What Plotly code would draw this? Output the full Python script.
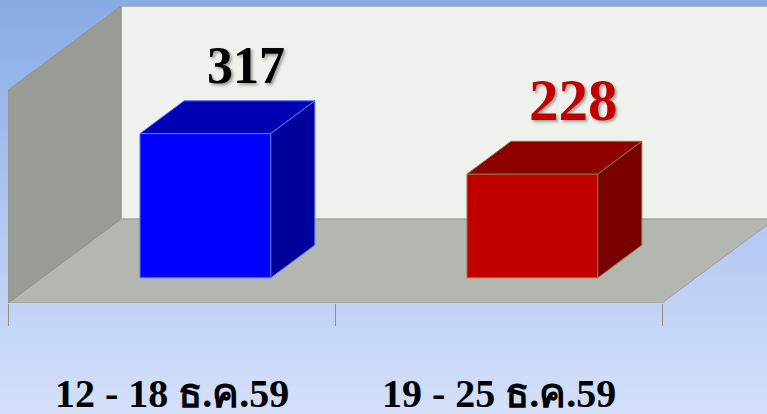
import plotly.graph_objects as go

# ---- data ----
categories = ["12 - 18 ธ.ค.59", "19 - 25 ธ.ค.59"]
values = [317, 228]
value_labels = ["317", "228"]

# ---- styling / geometry constants ----
front_colors = ["#0000FF", "#C00000"]
top_colors = ["#0000B4", "#8E0000"]
side_colors = ["#00009B", "#780000"]
edge_colors = ["#4F7BFF", "#8B7D3A"]
label_colors = ["#000000", "#C00000"]
label_sizes = [52, 59]
label_yshift = [35, 41]

W, H = 767, 414
ML, MB = 8, 111
px_per_x = 327.0          # pixels per category unit
px_per_y = 0.455          # pixels per value unit
plot_w = W - ML
plot_h = H - MB
x_min = -0.5
x_max = x_min + plot_w / px_per_x
y_max = plot_h / px_per_y

DX = 113 / px_per_x       # full depth, in x units
DY = 84 / px_per_y        # full depth, in y units
WALL_TOP = 468            # wall height in value units
D0, DD = 0.30, 0.39       # bar depth start / bar depth thickness (fraction)
BAR_W = 0.40

fig = go.Figure()

# background gradient strips
shapes = []
n = 60
c0 = (0x88, 0xAB, 0xE6)
c1 = (0xD4, 0xE0, 0xFA)
for i in range(n):
    t = i / (n - 1)
    c = tuple(int(round(c0[k] + (c1[k] - c0[k]) * t)) for k in range(3))
    top_px = H * i / n
    bot_px = H * (i + 1) / n + 1
    shapes.append(dict(type="rect", xref="paper", yref="paper",
                       x0=-ML / plot_w, x1=1.0,
                       y0=(plot_h - bot_px) / plot_h, y1=(plot_h - top_px) / plot_h,
                       fillcolor="rgb(%d,%d,%d)" % c, line=dict(width=0), layer="below"))

def path(pts):
    return "M " + " L ".join("%f,%f" % p for p in pts) + " Z"

x_left = x_min
x_right = x_left + len(categories)

# floor
shapes.append(dict(type="path", xref="x", yref="y", layer="below",
                   path=path([(x_left, 0), (x_right, 0), (x_right + DX, DY), (x_left + DX, DY)]),
                   fillcolor="#B4B7B0", line=dict(color="#9C9E98", width=1)))
# back wall
shapes.append(dict(type="path", xref="x", yref="y", layer="below",
                   path=path([(x_left + DX, DY), (x_right + DX, DY), (x_right + DX, DY + WALL_TOP), (x_left + DX, DY + WALL_TOP)]),
                   fillcolor="#EFF2EC", line=dict(color="#A3A6A0", width=1.5)))
# left wall
shapes.append(dict(type="path", xref="x", yref="y", layer="below",
                   path=path([(x_left, 0), (x_left + DX, DY), (x_left + DX, DY + WALL_TOP), (x_left, WALL_TOP)]),
                   fillcolor="#999B95", line=dict(color="#93958F", width=1)))

# bars
xs = list(range(len(categories)))
base = D0 * DY
for i, (xc, v) in enumerate(zip(xs, values)):
    fx = xc + D0 * DX
    xl = fx - BAR_W / 2
    xr = fx + BAR_W / 2
    ddx = DD * DX
    ddy = DD * DY
    # top face
    top = [(xl, base + v), (xr, base + v), (xr + ddx, base + v + ddy), (xl + ddx, base + v + ddy), (xl, base + v)]
    fig.add_trace(go.Scatter(x=[p[0] for p in top], y=[p[1] for p in top], mode="lines",
                             fill="toself", fillcolor=top_colors[i],
                             line=dict(color=edge_colors[i], width=1), hoverinfo="skip", showlegend=False))
    # side face
    side = [(xr, base), (xr + ddx, base + ddy), (xr + ddx, base + v + ddy), (xr, base + v), (xr, base)]
    fig.add_trace(go.Scatter(x=[p[0] for p in side], y=[p[1] for p in side], mode="lines",
                             fill="toself", fillcolor=side_colors[i],
                             line=dict(color=edge_colors[i], width=1), hoverinfo="skip", showlegend=False))
    # front face
    fig.add_trace(go.Bar(x=[fx], y=[v], base=[base], width=[BAR_W],
                         marker=dict(color=front_colors[i], line=dict(color=edge_colors[i], width=1)),
                         hoverinfo="skip", showlegend=False))

annotations = []
for i, (xc, v) in enumerate(zip(xs, values)):
    bx = xc + (D0 + DD) * DX
    by = base + v + DD * DY
    annotations.append(dict(x=bx, y=by, xref="x", yref="y", text=value_labels[i],
                            showarrow=False, yanchor="middle", xanchor="center", xshift=-3,
                            yshift=label_yshift[i],
                            font=dict(family="Liberation Serif", size=label_sizes[i],
                                      color=label_colors[i], weight="bold",
                                      shadow="2px 2px 3px rgba(0,0,0,0.35)")))
for i, xc in enumerate(xs):
    annotations.append(dict(x=xc, y=(plot_h - 392.5) / plot_h,
                            xref="x", yref="paper", text=categories[i], showarrow=False,
                            yanchor="middle", xanchor="center", height=42, valign="middle",
                            font=dict(family="Liberation Serif", size=40, color="#000000", weight="bold")))

fig.update_layout(
    width=W, height=H, autosize=False,
    margin=dict(l=ML, r=0, t=0, b=MB, pad=0),
    paper_bgcolor="#C0D2F4", plot_bgcolor="rgba(0,0,0,0)",
    shapes=shapes, annotations=annotations,
    barmode="overlay", showlegend=False,
    xaxis=dict(range=[x_min, x_max], showgrid=False, zeroline=False, showline=False,
               tickvals=[x_left + k for k in range(len(categories) + 1)],
               ticks="outside", ticklen=22, tickcolor="#8C8C8C", tickwidth=1.2,
               showticklabels=False, fixedrange=True),
    yaxis=dict(range=[0, y_max], showgrid=False, zeroline=False, showline=False,
               showticklabels=False, ticks="", fixedrange=True),
)

fig.write_html("out.html", config={"displayModeBar": False},
               post_script="document.body.style.margin='0';document.body.style.overflow='hidden';")
